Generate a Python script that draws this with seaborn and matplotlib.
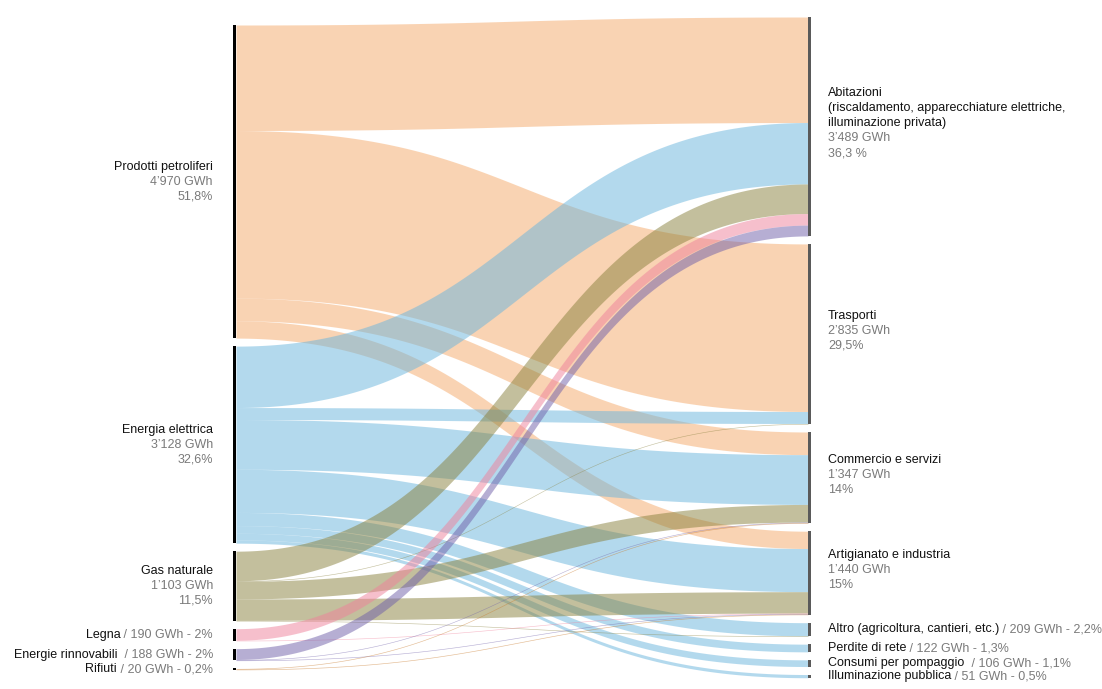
import numpy as np
import matplotlib
matplotlib.use("Agg")
import matplotlib.pyplot as plt
import seaborn as sns

# ---------------- data ----------------
sources = ["Prodotti petroliferi", "Energia elettrica", "Gas naturale",
           "Legna", "Energie rinnovabili", "Rifiuti"]
targets = ["Abitazioni", "Trasporti", "Commercio e servizi",
           "Artigianato e industria", "Altro", "Perdite di rete",
           "Consumi per pompaggio", "Illuminazione pubblica"]

# flows in GWh from each source to each target (target order as above)
flow_petroliferi = [1675, 2660, 360, 275, 0, 0, 0, 0]
flow_elettrica = [975, 190, 790, 685, 209, 122, 106, 51]
flow_gas = [470, 8, 280, 340, 5, 0, 0, 0]
flow_legna = [183, 0, 0, 7, 0, 0, 0, 0]
flow_rinnovabili = [172, 0, 8, 8, 0, 0, 0, 0]
flow_rifiuti = [0, 0, 10, 10, 0, 0, 0, 0]

source_value_labels = ["4’970 GWh", "3’128 GWh", "1’103 GWh"]
source_pct_labels = ["51,8%", "32,6%", "11,5%"]
source_small_names = ["Legna", "Energie rinnovabili ", "Rifiuti"]
source_small_info = [" / 190 GWh - 2%", " / 188 GWh - 2%", " / 20 GWh - 0,2%"]

target_big_names = ["Abitazioni\n(riscaldamento, apparecchiature elettriche,\nilluminazione privata)",
                    "Trasporti", "Commercio e servizi", "Artigianato e industria"]
target_value_labels = ["3’489 GWh", "2’835 GWh", "1’347 GWh", "1’440 GWh"]
target_pct_labels = ["36,3 %", "29,5%", "14%", "15%"]
target_small_names = ["Altro (agricoltura, cantieri, etc.)", "Perdite di rete",
                      "Consumi per pompaggio ", "Illuminazione pubblica"]
target_small_info = [" / 209 GWh - 2,2%", " / 122 GWh - 1,3%",
                     " / 106 GWh - 1,1%", " / 51 GWh - 0,5%"]

source_colors = ["#F5A969", "#69B5DD", "#89813D", "#EF819B", "#6F5FA9", "#C87828"]

# ---------------- style / layout ----------------
sns.set_theme(style="white")
plt.rcParams['font.family'] = ['Liberation Sans', 'DejaVu Sans']
palette = sns.color_palette(source_colors)

W, H = 1102, 689
fig = plt.figure(figsize=(W / 100, H / 100), dpi=100)
ax = fig.add_axes([0, 0, 1, 1])
ax.set_xlim(0, W)
ax.set_ylim(H, 0)
ax.axis("off")

scale = 0.063          # px per GWh
gap = 8
left_top, right_top = 25, 17
x_left, x_right = 236, 808
bar_w = 3

flows = np.array([flow_petroliferi, flow_elettrica, flow_gas,
                  flow_legna, flow_rinnovabili, flow_rifiuti], dtype=float)
src_tot = flows.sum(axis=1)
tgt_tot = flows.sum(axis=0)

src_y = left_top + np.concatenate([[0], np.cumsum(src_tot * scale + gap)[:-1]])
tgt_y = right_top + np.concatenate([[0], np.cumsum(tgt_tot * scale + gap)[:-1]])

# link offsets
src_off = src_y.copy()
tgt_off = tgt_y.copy()
src_start = np.zeros_like(flows)
tgt_start = np.zeros_like(flows)
for i in range(flows.shape[0]):
    for j in range(flows.shape[1]):
        src_start[i, j] = src_off[i]
        src_off[i] += flows[i, j] * scale
for j in range(flows.shape[1]):
    for i in range(flows.shape[0]):
        tgt_start[i, j] = tgt_off[j]
        tgt_off[j] += flows[i, j] * scale

t = np.linspace(0, 1, 200)
dx = x_right - x_left
xs = x_left + dx * (1.5 * t - 1.5 * t ** 2 + t ** 3)
sm = 3 * t ** 2 - 2 * t ** 3
for i in range(flows.shape[0]):
    for j in range(flows.shape[1]):
        v = flows[i, j]
        if v <= 0:
            continue
        w = v * scale
        y0 = src_start[i, j]
        y1 = tgt_start[i, j]
        ytop = y0 + (y1 - y0) * sm
        ax.fill_between(xs, ytop, ytop + max(w, 0.6), color=palette[i],
                        alpha=0.5, lw=0)

# node bars
ax.bar([x_left - bar_w / 2] * len(sources), src_tot * scale, bottom=src_y,
       width=bar_w, color="black", linewidth=0)
ax.bar([x_right + bar_w / 2] * len(targets), tgt_tot * scale, bottom=tgt_y,
       width=bar_w - 0.5, color="#5a5a5a", linewidth=0)

# ---------------- labels ----------------
fs = 9
black, grey = "#111111", "#7a7a7a"
lh = 15
lx, rx = 213, 828

def block(x, yc, lines, ha):
    n = len(lines)
    for k, (txt, col) in enumerate(lines):
        y = yc + (k - (n - 1) / 2) * lh
        ax.text(x, y, txt, color=col, fontsize=fs, ha=ha, va="center")

for i in range(3):
    yc = src_y[i] + src_tot[i] * scale / 2
    block(lx, yc, [(sources[i], black), (source_value_labels[i], grey),
                   (source_pct_labels[i], grey)], "right")

for k in range(3):
    i = 3 + k
    yc = src_y[i] + src_tot[i] * scale / 2
    g = ax.text(lx, yc, source_small_info[k], color=grey, fontsize=fs,
                ha="right", va="center")
    ax.annotate(source_small_names[k], xy=(0, 0.5), xycoords=g, color=black,
                fontsize=fs, ha="right", va="center")

for j in range(4):
    yc = tgt_y[j] + tgt_tot[j] * scale / 2 - 3
    name_lines = target_big_names[j].split("\n")
    lines = [(s, black) for s in name_lines] + [(target_value_labels[j], grey),
                                                 (target_pct_labels[j], grey)]
    block(rx, yc, lines, "left")

for k in range(4):
    j = 4 + k
    yc = tgt_y[j] + tgt_tot[j] * scale / 2
    b = ax.text(rx, yc, target_small_names[k], color=black, fontsize=fs,
                ha="left", va="center")
    ax.annotate(target_small_info[k], xy=(1, 0.5), xycoords=b, color=grey,
                fontsize=fs, ha="left", va="center")

fig.savefig("out.png", dpi=100)
